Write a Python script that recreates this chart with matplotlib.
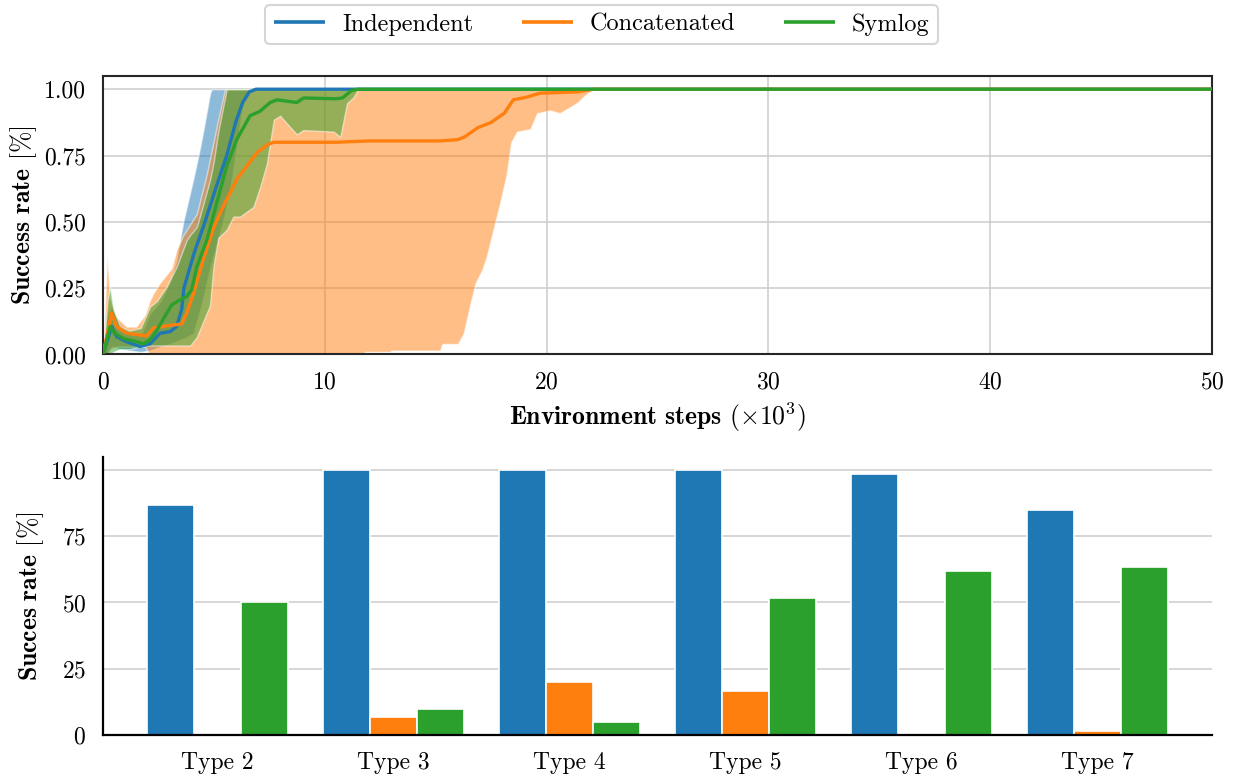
import matplotlib
matplotlib.use("Agg")
import matplotlib.pyplot as plt
import numpy as np

plt.rcParams.update({
    "font.family": "serif",
    "font.serif": ["cmr10"],
    "mathtext.fontset": "cm",
    "axes.formatter.use_mathtext": True,
    "axes.unicode_minus": False,
    "font.size": 17,
})

# ---------------- learning curves (x in thousands of environment steps) ----------------
ind_x = [0, 0.39, 0.62, 1.07, 1.67, 2.12, 2.57, 3.02, 3.32, 3.55, 3.65, 4.1, 4.6, 5.1,
         5.58, 6.0, 6.3, 6.6, 6.9, 50]
ind_mean = [0, 0.105, 0.067, 0.048, 0.03, 0.04, 0.08, 0.086, 0.105, 0.17, 0.25, 0.38, 0.5,
            0.63, 0.75, 0.88, 0.95, 0.99, 1.0, 1.0]
ind_band_x = [0, 0.2, 0.4, 0.8, 1.2, 1.7, 2.1, 2.6, 3.0, 3.3, 3.62, 4.07, 4.38, 4.53, 4.83,
              4.9, 5.43, 5.8, 6.33, 6.63, 50]
ind_low = [0, 0.0, 0.03, 0.02, 0.015, 0.01, 0.015, 0.03, 0.04, 0.05, 0.06, 0.08, 0.17, 0.22,
           0.33, 0.35, 0.51, 0.66, 0.96, 1.0, 1.0]
ind_high = [0, 0.15, 0.18, 0.11, 0.08, 0.07, 0.15, 0.2, 0.27, 0.35, 0.5, 0.66, 0.78, 0.846,
            0.985, 1.0, 1.0, 1.0, 1.0, 1.0, 1.0]

cat_x = [0, 0.39, 0.62, 1.07, 1.52, 1.97, 2.27, 2.87, 3.55, 3.78, 4.08, 4.53, 5.0, 5.43,
         5.8, 6.03, 6.48, 6.94, 7.39, 7.69, 10.5, 12.0, 15.2, 16.0, 16.3, 16.9, 17.5, 18.1,
         18.5, 19.1, 19.7, 21.4, 22.1, 50]
cat_mean = [0, 0.156, 0.105, 0.08, 0.075, 0.07, 0.10, 0.108, 0.115, 0.156, 0.23, 0.36,
            0.48, 0.56, 0.62, 0.66, 0.71, 0.76, 0.79, 0.80, 0.80, 0.805, 0.805, 0.81, 0.82,
            0.855, 0.875, 0.91, 0.96, 0.97, 0.985, 0.99, 1.0, 1.0]
cat_band_x = [0, 0.19, 0.32, 0.62, 1.07, 1.5, 1.9, 2.1, 2.27, 2.57, 3.1, 3.32, 3.62, 4.23,
              4.68, 5.13, 5.5, 11.75, 11.8, 12.95, 13.0, 15.2, 15.3, 16.0, 16.26, 16.56,
              16.8, 17.1, 17.3, 17.6, 17.9, 18.2, 18.4, 18.66, 19.27, 19.57, 20.17, 20.6,
              21.4, 21.7, 22.1, 50]
cat_low = [0, 0.0, 0.02, 0.03, 0.03, 0.03, 0.03, 0.0, 0.0, 0.0, 0.0, 0.0, 0.0, 0.0, 0.0,
           0.0, 0.0, 0.0, 0.01, 0.01, 0.015, 0.015, 0.04, 0.04, 0.08, 0.19, 0.27, 0.32,
           0.37, 0.47, 0.57, 0.68, 0.80, 0.84, 0.85, 0.91, 0.92, 0.91, 0.95, 0.975, 1.0, 1.0]
cat_high = [0, 0.37, 0.21, 0.14, 0.105, 0.105, 0.15, 0.2, 0.23, 0.27, 0.325, 0.395, 0.45,
            0.53, 0.68, 0.86, 1.0, 1.0, 1.0, 1.0, 1.0, 1.0, 1.0, 1.0, 1.0, 1.0, 1.0, 1.0,
            1.0, 1.0, 1.0, 1.0, 1.0, 1.0, 1.0, 1.0, 1.0, 1.0, 1.0, 1.0, 1.0, 1.0]

sym_x = [0, 0.32, 0.54, 0.92, 1.52, 1.82, 2.12, 2.42, 2.87, 3.1, 3.47, 3.77, 4.0, 4.23,
         4.68, 5.05, 5.58, 6.03, 6.63, 7.08, 7.54, 7.84, 8.74, 9.04, 10.5, 10.8, 11.2,
         11.5, 50]
sym_mean = [0, 0.105, 0.08, 0.06, 0.048, 0.04, 0.055, 0.09, 0.155, 0.187, 0.206, 0.218,
            0.244, 0.33, 0.43, 0.546, 0.71, 0.81, 0.90, 0.917, 0.95, 0.96, 0.95, 0.967,
            0.964, 0.967, 0.995, 1.0, 1.0]
sym_band_x = [0, 0.2, 0.32, 0.47, 0.77, 1.2, 1.7, 2.12, 2.42, 2.87, 3.32, 3.77, 3.93, 4.23,
              4.3, 4.5, 4.8, 4.83, 4.98, 5.2, 5.58, 5.88, 6.18, 6.78, 7.08, 7.39, 7.54,
              7.7, 7.99, 8.3, 8.74, 9.04, 10.4, 10.7, 11.0, 11.3, 11.5, 50]
sym_low = [0, 0.0, 0.0, 0.01, 0.02, 0.02, 0.03, 0.034, 0.034, 0.034, 0.034, 0.034, 0.034,
           0.065, 0.08, 0.12, 0.18, 0.19, 0.33, 0.44, 0.47, 0.52, 0.52, 0.556, 0.63, 0.72,
           0.80, 0.885, 0.90, 0.87, 0.83, 0.846, 0.84, 0.82, 0.947, 0.97, 1.0, 1.0]
sym_high = [0, 0.2, 0.256, 0.17, 0.105, 0.09, 0.1, 0.18, 0.2, 0.256, 0.33, 0.43, 0.45,
            0.48, 0.5, 0.56, 0.65, 0.66, 0.72, 0.84, 1.0, 1.0, 1.0, 1.0, 1.0, 1.0, 1.0,
            1.0, 1.0, 1.0, 1.0, 1.0, 1.0, 1.0, 1.0, 1.0, 1.0, 1.0]

# ---------------- per-type success rates (%) ----------------
types = ["Type 2", "Type 3", "Type 4", "Type 5", "Type 6", "Type 7"]
ind_rate = [86.7, 100.0, 100.0, 100.0, 98.3, 85.0]
cat_rate = [0.0, 6.7, 20.0, 16.7, 0.0, 1.7]
sym_rate = [50.0, 10.0, 5.0, 51.7, 61.7, 63.3]

series = ["Independent", "Concatenated", "Symlog"]
colors = ["#1f77b4", "#ff7f0e", "#2ca02c"]

fig = plt.figure(figsize=(12.33, 7.75), dpi=100)
ax1 = fig.add_axes([0.0835, 0.5426, 0.8995, 0.3594])
ax2 = fig.add_axes([0.0835, 0.0516, 0.8995, 0.3591])

grid_kw = dict(color="#cccccc", linewidth=1.1)
label_size = 18.5

# top panel: mean curves with min/max bands
curves = [
    (ind_x, ind_mean, ind_band_x, ind_low, ind_high),
    (cat_x, cat_mean, cat_band_x, cat_low, cat_high),
    (sym_x, sym_mean, sym_band_x, sym_low, sym_high),
]
handles = []
for (x, m, bx, lo, hi), name, c in zip(curves, series, colors):
    ax1.fill_between(bx, lo, hi, facecolor=c, edgecolor="white", linewidth=1.0,
                     alpha=0.5, zorder=1)
for (x, m, bx, lo, hi), name, c in zip(curves, series, colors):
    h, = ax1.plot(x, m, color=c, linewidth=2.4, label=name, zorder=3,
                  solid_capstyle="butt")
    handles.append(h)

ax1.set_xlim(0, 50)
ax1.set_ylim(0, 1.05)
ax1.set_xticks([0, 10, 20, 30, 40, 50])
ax1.set_yticks([0, 0.25, 0.5, 0.75, 1.0])
ax1.set_yticklabels(["0.00", "0.25", "0.50", "0.75", "1.00"])
ax1.grid(True, **grid_kw)
ax1.set_axisbelow(True)
for s in ax1.spines.values():
    s.set_color("#262626")
    s.set_linewidth(1.5)
ax1.tick_params(length=0, pad=12)
ax1.set_ylabel(r"$\mathbf{Success\ rate}$ [%]", labelpad=4, fontsize=label_size)
ax1.set_xlabel(r"$\mathbf{Environment\ steps}$ ($\times\mathbf{10}^{\mathbf{3}}$)",
               labelpad=5, fontsize=label_size)

# bottom panel: grouped bars
pos = np.arange(len(types))
w = 0.8 / 3
for k, (vals, c) in enumerate(zip([ind_rate, cat_rate, sym_rate], colors)):
    ax2.bar(pos + (k - 1) * w, vals, width=w, color=c, edgecolor="white",
            linewidth=1.2, zorder=2)
ax2.set_xlim(-0.65, 5.65)
ax2.set_ylim(0, 105)
ax2.set_xticks(pos)
ax2.set_xticklabels(types)
ax2.set_yticks([0, 25, 50, 75, 100])
ax2.yaxis.grid(True, **grid_kw)
ax2.set_axisbelow(True)
ax2.spines["top"].set_visible(False)
ax2.spines["right"].set_visible(False)
for side in ("left", "bottom"):
    ax2.spines[side].set_color("black")
    ax2.spines[side].set_linewidth(1.6)
ax2.tick_params(length=0, pad=12)
ax2.set_ylabel(r"$\mathbf{Succes\ rate}$ [%]", labelpad=3, fontsize=label_size)

leg = fig.legend(handles=handles, labels=series, loc="upper center",
                 bbox_to_anchor=(0.488, 0.997), ncol=3, fontsize=17.5,
                 handlelength=2.1, handletextpad=0.7, columnspacing=2.0,
                 borderpad=0.35, borderaxespad=0.1, frameon=True, fancybox=True)
leg.get_frame().set_edgecolor("#cccccc")
leg.get_frame().set_linewidth(1.5)
for line in leg.get_lines():
    line.set_linewidth(2.6)

fig.savefig("out.png", dpi=100)
